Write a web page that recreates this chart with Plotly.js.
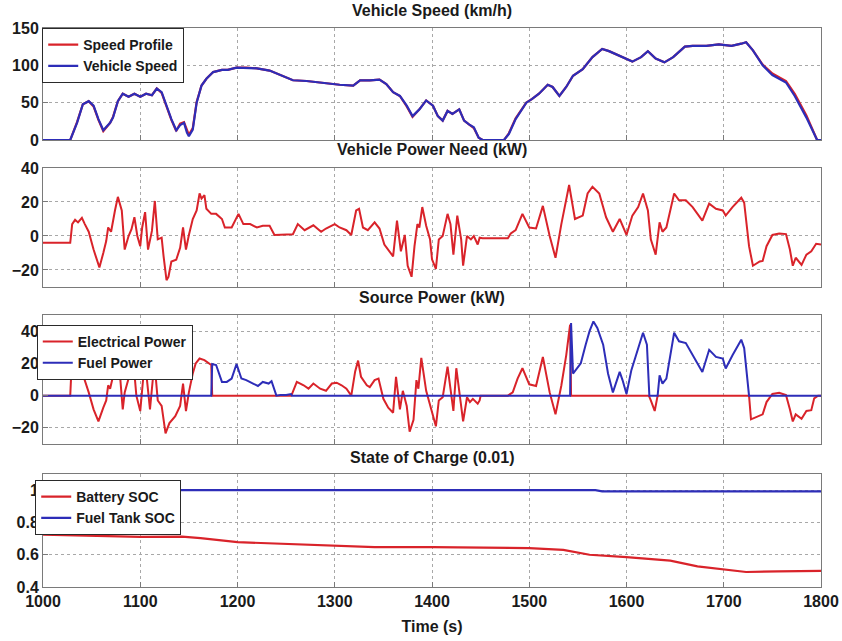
<!DOCTYPE html>
<html>
<head>
<meta charset="utf-8">
<script src="https://cdn.plot.ly/plotly-3.0.1.min.js"></script>
<style>
html,body{margin:0;padding:0;background:#fff;}
#chart{width:842px;height:641px;}
</style>
</head>
<body>
<div id="chart"></div>
<script>
// ---------- Vehicle speed (km/h) ----------
const spdT = [1000,1028,1035,1041,1047,1052,1057,1062,1069,1072,
  1077,1082,1088,1094,1100,1106,1112,1117,1122,1127,
  1132,1137,1141,1145,1148,1150,1154,1158,1163,1168,
  1175,1184,1190,1199,1209,1220,1233,1247,1257,1271,
  1285,1295,1305,1319,1326,1336,1346,1353,1360,1367,
  1374,1380,1387,1394,1401,1406,1411,1416,1421,1428,
  1433,1438,1443,1448,1452,1474,1479,1486,1497,1503,
  1510,1519,1524,1531,1538,1545,1555,1565,1575,1582,
  1593,1606,1615,1622,1630,1639,1648,1660,1668,1682,
  1695,1708,1718,1723,1730,1740,1750,1764,1773,1785,
  1796,1800];
const speedProfile = [0,0,24,48,52,45,27,12,23,31,
  52,62,58,62,58,62,60,69,63,45,
  27,12,22,24,12,7,16,51,73,82,
  91,94,94,97,97,96,93,85,80,79,
  77,75,74,73,80,80,81,75,64,59,
  45,31,41,53,46,32,26,39,35,41,
  26,21,16,3,0,0,9,29,50,55,
  62,74,71,59,71,86,95,111,122,119,
  113,105,111,119,109,104,111,125,126,126,
  128,126,129,131,120,101,89,79,62,33,
  0,0];
const vehicleSpeed = [0,0,23,48,52,46,28,13,23,30,
  52,62,58,62,58,62,60,69,64,46,
  28,13,20,23,10,5,14,50,73,82,
  91,94,94,97,97,96,93,85,80,79,
  77,75,74,73,80,80,81,75,64,59,
  46,32,41,53,46,32,26,39,35,41,
  26,21,17,3,0,0,8,28,50,55,
  62,74,71,59,71,86,95,111,122,119,
  113,105,111,119,109,104,111,125,126,126,
  128,126,129,131,120,100,87,77,59,30,
  0,0];

// ---------- Vehicle power need (kW) ----------
const pwrT = [1000,1028,1030,1033,1036,1040,1043,1047,1052,1058,
  1062,1065,1067,1070,1074,1077,1081,1084,1088,1091,
  1094,1097,1100,1102,1105,1108,1112,1115,1118,1122,
  1124,1127,1129,1132,1137,1141,1144,1147,1150,1154,
  1158,1161,1163,1166,1168,1173,1178,1184,1187,1194,
  1201,1206,1213,1220,1226,1233,1238,1247,1257,1262,
  1269,1278,1286,1291,1297,1300,1305,1312,1317,1322,
  1325,1329,1334,1341,1346,1351,1360,1364,1368,1372,
  1375,1379,1382,1385,1387,1390,1394,1398,1400,1404,
  1407,1411,1416,1419,1422,1426,1430,1432,1436,1440,
  1443,1447,1449,1452,1478,1481,1486,1493,1500,1507,
  1514,1521,1527,1533,1541,1547,1555,1560,1565,1572,
  1579,1586,1593,1600,1606,1612,1617,1622,1625,1630,
  1634,1637,1641,1649,1654,1661,1668,1678,1685,1692,
  1699,1702,1709,1718,1721,1726,1730,1737,1740,1744,
  1750,1757,1764,1768,1771,1774,1780,1785,1790,1795,
  1800];
const powerNeed = [-4,-4,7,9.5,8,10.7,7,2.5,-8,-18.5,
  -10,-3,5,2.5,15,23,15,-8,0,4,
  11,0,-6,5,14,-8,3,20.6,-2,-1,
  -12,-26,-24,-15,-14,-7,5,-8,0.6,10,
  15,25,22,24,16,13,13,10,5,5,
  13,7,7,5,6,6,0.6,0.6,1,7,
  3.4,6.3,2.5,4.4,6.3,7,5,3.4,0.6,15,
  16,5,3.4,8,4.4,-5,-12,9,-9,0.6,
  -17.5,-24,-6,7,5,17,6,-2,-13.7,-19.4,
  -2,0,13,7,-11,12,-2,-17.5,0,-2,
  0,-5,-1,-1.3,-1.3,1.5,3.4,13,5,4.4,
  17.7,0,-12.8,7,30,10,12,25,29,25,
  11,2.5,10,0.6,12,17,25,15,-2,-11,
  8,2.5,5,25,21,21,17,9,19,16,
  15,12,17,22.5,19.6,-6,-17.5,-15,-14.7,-6,
  0.6,1.5,1.1,-8,-17.5,-12.8,-17,-11,-9,-4.6,
  -5];

// ---------- Source power (kW) ----------
const elecT = [1000,1028,1029,1031,1034,1037,1040,1043,1047,1052,
  1057,1062,1065,1067,1069,1072,1075,1077,1079,1082,
  1084,1088,1091,1094,1096,1100,1103,1106,1110,1113,
  1115,1118,1122,1124,1126,1130,1136,1141,1144,1147,
  1150,1154,1157,1161,1166,1173,1174,1255,1256,1261,
  1268,1273,1278,1285,1291,1297,1302,1307,1312,1317,
  1321,1324,1327,1333,1336,1341,1345,1350,1355,1360,
  1363,1367,1370,1374,1377,1381,1384,1386,1389,1394,
  1397,1400,1404,1407,1411,1416,1419,1422,1425,1429,
  1432,1436,1439,1442,1447,1449,1450,1478,1483,1488,
  1493,1500,1507,1514,1521,1527,1533,1538,1542,1543,
  1623,1625,1629,1632,1726,1728,1737,1740,1744,1750,
  1757,1764,1768,1771,1774,1780,1785,1790,1793,1797,
  1800];
const elecPower = [0,0,12.8,11.7,15,12.8,15,9.6,2,-8.5,
  -16,-7.5,-3,6.4,4.3,12,18,22,14,-8.5,
  2,10.6,15,14,0,-9.6,10.6,15,-8.5,10.6,
  18,-3,-6.4,-15,-23.4,-17,-12.8,-6.4,7.5,-9.6,
  2,13.8,20,23,22,19,0,0,1,8.5,
  6.4,4.3,7.5,4.3,3,7.5,8,6.4,4.3,0,
  15,21.7,11.7,6.4,5.3,9.6,10.6,-2,-7.5,-10.6,
  11.7,-8.5,3,-6.4,-22.4,-15,9.6,4.3,23.4,3,
  -4,-10.5,-19,-3,-1,18,4,-9.5,17,-2,
  -16,-1,-4,-2,-5,-3,0,0,2,10.5,
  17,7,6,24,2,-11.6,6.3,25,44,0,
  0,-3,-9.5,0,0,-14.7,-12.6,-11.6,-4,1,
  1.7,0.4,-8.4,-16,-11.6,-14.3,-9.5,-9,-1.7,0,
  0];
const fuelT = [1000,1173,1174,1178,1184,1189,1194,1199,1204,1209,
  1216,1221,1226,1232,1235,1240,1244,1250,1255,1256,
  1542,1543,1545,1548,1553,1558,1562,1566,1570,1576,
  1581,1586,1593,1596,1600,1605,1610,1617,1621,1623.5,
  1632,1634,1637,1641,1649,1654,1661,1668,1678,1685,
  1692,1699,1702,1709,1718,1721,1726,1800];
const fuelPower = [0,0,19.6,19,8.5,8.5,10.6,19.6,10.6,9.6,
  7.5,6,8.5,7.5,9,0,0.4,0.4,1,0,
  0,45,13.7,15.8,20,31.6,40,46,42,31.6,
  13.7,2,14.7,9.5,1,15.8,25,39,31.6,0,
  0,12.6,7.4,10.5,39,33.7,32.6,25,14.7,28.4,
  24,23,16.8,25,34.7,29.5,0,0];

// ---------- State of charge ----------
const socT = [1000,1100,1143,1162,1200,1253,1300,1341,1400,1500,
  1535,1562,1600,1645,1673,1700,1723,1756,1800];
const batterySOC = [0.724,0.71,0.712,0.703,0.678,0.666,0.658,0.647,0.647,0.641,
  0.63,0.60,0.585,0.563,0.528,0.51,0.493,0.497,0.50];
const fuelSocT = [1000,1568,1575,1800];
const fuelTankSOC = [1.0,1.0,0.993,0.993];

// ---------- Text ----------
const titles = ['Vehicle Speed (km/h)','Vehicle Power Need (kW)','Source Power (kW)','State of Charge (0.01)'];
const xTickVals = [1000,1100,1200,1300,1400,1500,1600,1700,1800];

const RED = '#d9232a';
const BLUE = '#2d2db8';
const FONT = 'Liberation Sans, Arial, Helvetica, sans-serif';

const traces = [
  {x: spdT, y: speedProfile, name: 'Speed Profile', xaxis:'x', yaxis:'y', mode:'lines', line:{color:RED, width:2.2}, legend:'legend'},
  {x: spdT, y: vehicleSpeed, name: 'Vehicle Speed', xaxis:'x', yaxis:'y', mode:'lines', line:{color:BLUE, width:2.2}, legend:'legend'},
  {x: pwrT, y: powerNeed, name: 'Power Need', xaxis:'x2', yaxis:'y2', mode:'lines', line:{color:RED, width:2}, showlegend:false},
  {x: elecT, y: elecPower, name: 'Electrical Power', xaxis:'x3', yaxis:'y3', mode:'lines', line:{color:RED, width:2}, legend:'legend2'},
  {x: fuelT, y: fuelPower, name: 'Fuel Power', xaxis:'x3', yaxis:'y3', mode:'lines', line:{color:BLUE, width:2}, legend:'legend2'},
  {x: socT, y: batterySOC, name: 'Battery SOC', xaxis:'x4', yaxis:'y4', mode:'lines', line:{color:RED, width:2.2}, legend:'legend3'},
  {x: fuelSocT, y: fuelTankSOC, name: 'Fuel Tank SOC', xaxis:'x4', yaxis:'y4', mode:'lines', line:{color:BLUE, width:2.2}, legend:'legend3'}
];

const axCommon = {
  showgrid:true, gridcolor:'#a8a8a8', griddash:'dot', gridwidth:1,
  showline:true, mirror:true, linecolor:'#7a7a7a', linewidth:1,
  ticks:'inside', ticklen:5, tickcolor:'#7a7a7a', zeroline:false,
  tickfont:{family:FONT, size:16, color:'#1a1a1a', weight:'bold'}
};
function xa(anchor, labels){
  return Object.assign({}, axCommon, {anchor:anchor, range:[1000,1800], tickvals:xTickVals,
    showticklabels:labels, matches: anchor==='y' ? undefined : 'x'});
}
function ya(anchor, domain, range, dtick){
  return Object.assign({}, axCommon, {anchor:anchor, domain:domain, range:range, dtick:dtick, tick0:0});
}

const legCommon = {bgcolor:'#ffffff', bordercolor:'#2a2a2a', borderwidth:1,
  font:{family:FONT, size:14, color:'#1a1a1a', weight:'bold'}, xanchor:'left', yanchor:'top', tracegroupgap:0};

const layout = {
  width:842, height:641,
  margin:{l:43, r:21, t:28, b:54},
  paper_bgcolor:'#ffffff', plot_bgcolor:'#ffffff',
  xaxis: xa('y', false),
  xaxis2: xa('y2', false),
  xaxis3: xa('y3', false),
  xaxis4: Object.assign(xa('y4', true), {title:{text:'Time (s)', standoff:11, font:{family:FONT, size:16, color:'#1a1a1a', weight:'bold'}}}),
  yaxis: ya('x', [0.7996, 1.0], [0,150], 50),
  yaxis2: ya('x2', [0.5367, 0.7496], [-30,40], 20),
  yaxis3: ya('x3', [0.2558, 0.4866], [-30,50], 20),
  yaxis4: ya('x4', [0, 0.2021], [0.4,1.1], 0.2),
  legend: Object.assign({}, legCommon, {x:-0.001, y:1.0}),
  legend2: Object.assign({}, legCommon, {x:-0.008, y:0.4687}),
  legend3: Object.assign({}, legCommon, {x:-0.010, y:0.1914}),
  annotations: titles.map((t,i) => ({
    text: t, xref:'paper', yref:'paper', x:0.5, xanchor:'center',
    y: [1.032, 0.7818, 0.517, 0.2308][i], yanchor:'middle', showarrow:false,
    font:{family:FONT, size:16, color:'#1a1a1a', weight:'bold'}
  })),
  showlegend:true
};

Plotly.newPlot('chart', traces, layout, {displayModeBar:false, staticPlot:true});
</script>
</body>
</html>
